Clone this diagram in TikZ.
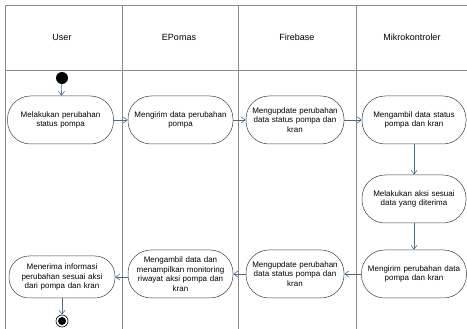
\documentclass[tikz,border=0pt]{standalone}
\usepackage{fontspec}
\setmainfont{Liberation Sans}
\usetikzlibrary{arrows.meta}
\definecolor{lanegray}{HTML}{8A8A8A}
\definecolor{arrowblue}{HTML}{4A6A88}
\tikzset{
  act/.style={draw=black!75, line width=0.5pt, rounded corners=23pt, minimum height=48pt,
    align=center, font=\fontsize{8}{9.6}\selectfont, inner sep=1pt},
  lane/.style={draw=lanegray, line width=0.6pt},
  head/.style={font=\fontsize{9}{11}\selectfont},
  flow/.style={draw=arrowblue, line width=0.6pt, -{Straight Barb[length=4pt,width=6pt]}},
}
\begin{document}
\begin{tikzpicture}[x=1pt,y=-1pt]
\useasboundingbox (0,0) rectangle (467,329);
% swimlanes
\draw[lane] (5,5) -- (467,5);
\draw[lane] (5,70) -- (467,70);
\draw[lane] (5,5) -- (5,329);
\draw[lane] (122,5) -- (122,329);
\draw[lane] (238,5) -- (238,329);
\draw[lane] (356,5) -- (356,329);
\node[head] (hU) at (62,37) {User};
\node[head] (hE) at (179,37) {EPomas};
\node[head] (hF) at (297,37) {Firebase};
\node[head] (hM) at (412,37) {Mikrokontroler};
% start
\node[circle, fill=black, minimum size=12pt, inner sep=0pt] (start) at (62,78) {};
% activities
\node[act, minimum width=105pt, text width=104pt] (n1) at (60.5,120) {Melakukan perubahan\\status pompa};
\node[act, minimum width=103pt, text width=103pt] (n2) at (180.5,120) {Mengirim data perubahan\\pompa};
\node[act, minimum width=97pt, text width=96pt] (n3) at (295,120) {Mengupdate perubahan\\data status pompa dan\\kran};
\node[act, minimum width=103pt, text width=102pt] (n4) at (414,120) {Mengambil data status\\pompa dan kran};
\node[act, minimum width=103pt, text width=102pt] (n5) at (414,199) {Melakukan aksi sesuai\\data yang diterima};
\node[act, minimum width=103pt, text width=103pt] (n6) at (414,274) {Mengirim perubahan data\\pompa dan kran};
\node[act, minimum width=97pt, text width=96pt] (n7) at (295,274) {Mengupdate perubahan\\data status pompa dan\\kran};
\node[act, minimum width=103pt, text width=103pt] (n8) at (180.5,274) {Mengambil data dan\\menampilkan monitoring\\riwayat aksi pompa dan\\kran};
\node[act, minimum width=105pt, text width=104pt, minimum height=42pt, rounded corners=20pt] (n9) at (62,277) {Menerima informasi\\perubahan sesuai aksi\\dari pompa dan kran};
% end
\node[circle, draw=black, line width=0.6pt, minimum size=12pt, inner sep=0pt] (end) at (62,321) {};
\node[circle, fill=black, minimum size=8pt, inner sep=0pt] (endin) at (end.center) {};
% flows
\draw[flow] (start) -- (n1);
\draw[flow] (n1) -- (n2);
\draw[flow] (n2) -- (n3);
\draw[flow] (n3) -- (n4);
\draw[flow] (n4) -- (n5);
\draw[flow] (n5) -- (n6);
\draw[flow] (n6) -- (n7);
\draw[flow] (n7) -- (n8);
\draw[flow] (n8.west |- n9.east) -- (n9.east);
\draw[flow] (n9) -- (end);
\end{tikzpicture}
\end{document}
